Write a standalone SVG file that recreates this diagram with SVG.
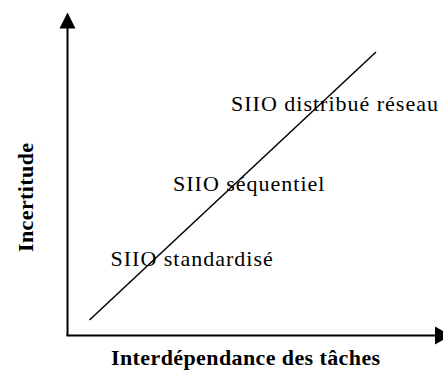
<svg xmlns="http://www.w3.org/2000/svg" width="443" height="370" viewBox="0 0 443 370">
<style>
.ax{stroke:#000;stroke-width:2;fill:none}
.dg{stroke:#000;stroke-width:1.5;fill:none}
.lbl{font-family:"Liberation Serif","Times New Roman",serif;font-size:22px;letter-spacing:1px;fill:#000}
.ttl{font-family:"Liberation Serif","Times New Roman",serif;font-size:22px;font-weight:bold;letter-spacing:0.4px;fill:#000}
.ah{fill:#000;stroke:none}
</style>
<rect width="443" height="370" fill="#fff"/>
<g id="connectors">
<line class="ax" x1="67.5" y1="26" x2="67.5" y2="336"/>
<polygon class="ah" points="67.5,12.5 59.5,28.5 75.5,28.5"/>
<line class="ax" x1="66.5" y1="335.5" x2="436" y2="335.5"/>
<polygon class="ah" points="451,335.5 435,326.5 435,344.5"/>
<line class="dg" x1="89.5" y1="320" x2="376" y2="52"/>
</g>
<g id="node-standardise"><text class="lbl" x="110.5" y="266">SIIO standardisé</text></g>
<g id="node-sequentiel"><text class="lbl" x="173" y="191">SIIO séquentiel</text></g>
<g id="node-distribue"><text class="lbl" x="231" y="111">SIIO distribué réseau</text></g>
<g id="axis-x-label"><text class="ttl" x="111" y="365">Interdépendance des tâches</text></g>
<g id="axis-y-label"><text class="ttl" letter-spacing="0.8" transform="translate(33,252) rotate(-90)">Incertitude</text></g>
</svg>
